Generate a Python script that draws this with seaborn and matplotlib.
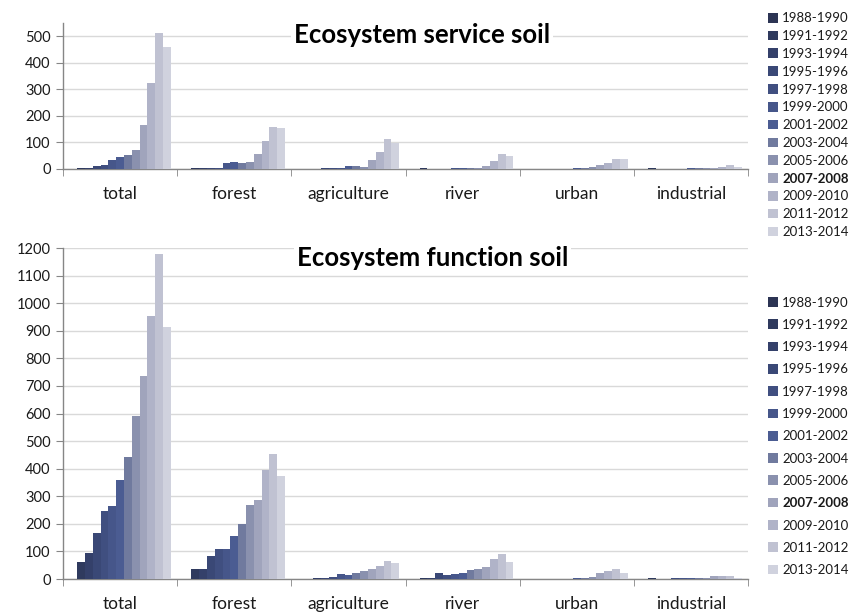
import matplotlib
matplotlib.use('Agg')
import matplotlib.pyplot as plt
from matplotlib.patches import Patch
import pandas as pd
import seaborn as sns

# periods (legend) and land-use categories (x axis)
periods = ['1988-1990', '1991-1992', '1993-1994', '1995-1996', '1997-1998',
           '1999-2000', '2001-2002', '2003-2004', '2005-2006', '2007-2008',
           '2009-2010', '2011-2012', '2013-2014']
categories = ['total', 'forest', 'agriculture', 'river', 'urban', 'industrial']

# Ecosystem service soil, one list per category (values per period)
service_total = [0, 2, 5, 10, 15, 33, 47, 54, 73, 166, 324, 512, 460]
service_forest = [0, 2, 2, 2, 2, 21, 27, 24, 27, 57, 106, 160, 155]
service_agriculture = [0, 1, 1, 2, 3, 5, 10, 12, 9, 33, 65, 112, 98]
service_river = [0, 2, 0, 0, 1, 3, 4, 2, 3, 13, 30, 56, 50]
service_urban = [0, 0, 0, 0, 1, 1, 2, 2, 6, 14, 21, 39, 36]
service_industrial = [0, 2, 0, 0, 0, 1, 2, 2, 2, 3, 6, 15, 6]

# Ecosystem function soil
function_total = [0, 63, 96, 165, 245, 265, 360, 442, 590, 737, 955, 1180, 912]
function_forest = [0, 37, 37, 83, 110, 110, 157, 198, 267, 288, 394, 455, 372]
function_agriculture = [0, 1, 2, 4, 9, 18, 15, 21, 28, 38, 48, 66, 59]
function_river = [0, 2, 3, 22, 16, 17, 23, 31, 37, 45, 71, 89, 61]
function_urban = [0, 0, 0, 0, 1, 1, 2, 3, 8, 20, 29, 35, 21]
function_industrial = [0, 3, 0, 1, 5, 3, 5, 5, 3, 10, 11, 11, 4]

colors = ['#2c3454', '#2f3a5e', '#34406a', '#3a4876', '#404f80', '#46568a',
          '#4b5c92', '#707a9e', '#8a91ae', '#a0a4bc', '#b0b3c8', '#c0c2d2',
          '#d0d2de']


def long_form(rows):
    records = []
    for cat, vals in zip(categories, rows):
        for p, v in zip(periods, vals):
            records.append({'category': cat, 'period': p, 'value': v})
    return pd.DataFrame(records)


service = long_form([service_total, service_forest, service_agriculture,
                     service_river, service_urban, service_industrial])
function = long_form([function_total, function_forest, function_agriculture,
                      function_river, function_urban, function_industrial])

sns.set_style('white')
plt.rcParams['font.family'] = ['Lato', 'DejaVu Sans']

fig = plt.figure(figsize=(8.55, 6.14), dpi=100)
ax_top = fig.add_axes([0.0737, 0.7248, 0.8012, 0.2377])
ax_bot = fig.add_axes([0.0737, 0.057, 0.8012, 0.539])


def style_axis(ax, df, ymax, title, tx, ty):
    sns.barplot(data=df, x='category', y='value', hue='period', palette=colors,
                width=0.89, saturation=1, errorbar=None, legend=False, ax=ax,
                linewidth=0, edgecolor='none', zorder=3)
    ax.set_xlim(-0.5, 5.5)
    ax.set_ylim(0, ymax)
    top_tick = 500 if ymax < 1000 else 1200
    ax.set_yticks(range(0, top_tick + 1, 100))
    ax.set_xlabel('')
    ax.set_ylabel('')
    ax.grid(axis='y', color='#d9d9d9', linewidth=1, zorder=0)
    ax.set_axisbelow(True)
    for side in ['top', 'right']:
        ax.spines[side].set_visible(False)
    for side in ['left', 'bottom']:
        ax.spines[side].set_color('#868686')
        ax.spines[side].set_linewidth(1)
    ax.set_xticks([x - 0.5 for x in range(7)], minor=True)
    ax.tick_params(axis='x', which='major', length=0, pad=12, labelsize=12.5,
                   labelcolor='#1a1a1a')
    ax.tick_params(axis='x', which='minor', length=5, color='#868686',
                   direction='out', bottom=True)
    ax.tick_params(axis='y', length=5, color='#868686', direction='out',
                   left=True, pad=4, labelsize=10.5, labelcolor='#1a1a1a')
    ax.text(tx, ty, title, transform=ax.transAxes, ha='center', va='center',
            fontsize=18.5, fontweight='bold', color='#000000', zorder=5,
            bbox=dict(facecolor='white', edgecolor='none', pad=2))


style_axis(ax_top, service, 550, 'Ecosystem service soil', 0.524, 0.918)
style_axis(ax_bot, function, 1200, 'Ecosystem function soil', 0.539, 0.97)

handles = [Patch(facecolor=c, edgecolor='none') for c in colors]


def add_legend(y_top, spacing):
    leg = fig.legend(handles, periods, loc='upper left',
                     bbox_to_anchor=(0.888, y_top), frameon=False,
                     fontsize=9.5, handlelength=0.75, handleheight=0.75,
                     handletextpad=0.3, labelspacing=spacing, borderpad=0.2)
    for t in leg.get_texts():
        t.set_color('#1a1a1a')
    leg.get_texts()[9].set_fontweight('bold')
    return leg


add_legend(0.995, 0.44)
add_legend(0.532, 0.78)

fig.savefig('out.png', dpi=100)
